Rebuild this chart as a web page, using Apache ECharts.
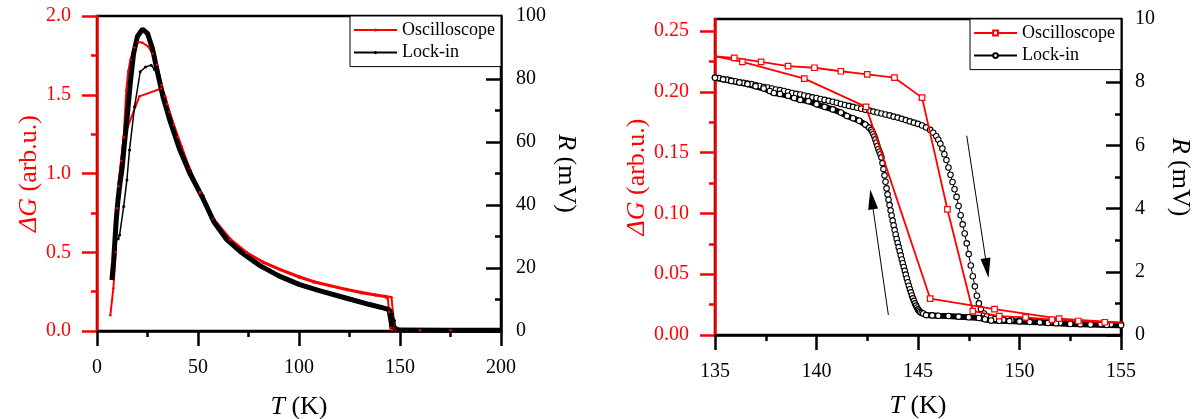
<!DOCTYPE html>
<html>
<head>
<meta charset="utf-8">
<script src="https://cdn.jsdelivr.net/npm/echarts@6/dist/echarts.min.js"></script>
<style>
  html, body { margin: 0; padding: 0; background: #ffffff; }
  #chart { width: 1196px; height: 419px; }
</style>
</head>
<body>
<div id="chart"></div>
<script>
// ---------- tick values ----------
const LEFT_T_TICKS   = [0, 50, 100, 150, 200];
const LEFT_DG_TICKS  = [0, 0.5, 1.0, 1.5, 2.0];
const LEFT_R_TICKS   = [0, 20, 40, 60, 80, 100];
const RIGHT_T_TICKS  = [135, 140, 145, 150, 155];
const RIGHT_DG_TICKS = [0, 0.05, 0.10, 0.15, 0.20, 0.25];
const RIGHT_DG_TOP   = 0.26;
const RIGHT_R_TICKS  = [0, 2, 4, 6, 8, 10];

const LEGEND_LABELS = {
  'osc-left': 'Oscilloscope', 'lock-left': 'Lock-in',
  'osc-right': 'Oscilloscope', 'lock-right': 'Lock-in'
};

// ---------- full range, 0-200 K: [T (K), value] ----------
// Oscilloscope dG (arb.u.), cooling run
const LEFT_OSC_COOL = [
  [6.6, 0.10], [8.1, 0.27], [9.3, 0.50], [9.9, 0.78], [10.5, 0.92], [12.0, 1.08], [13.2, 1.23],
  [14.5, 1.53], [15.5, 1.65], [16.5, 1.72], [18.5, 1.80], [20.6, 1.835], [22.5, 1.83], [25.5, 1.805],
  [27.5, 1.76], [29.7, 1.69], [32.0, 1.56], [34.6, 1.44], [38.0, 1.31], [42.0, 1.17], [46.0, 1.02],
  [51.0, 0.874], [57.7, 0.705], [66.0, 0.578], [74.2, 0.493], [82.0, 0.435], [90.6, 0.387],
  [100, 0.34], [107, 0.31], [115, 0.285], [123.6, 0.26], [131, 0.24], [138, 0.225], [143, 0.215],
  [144, 0.205], [144.6, 0.12], [145.3, 0.02], [146, 0.006], [150, 0.005], [175, 0.004], [200, 0.004]
];
// Oscilloscope dG (arb.u.), warming run
const LEFT_OSC_WARM = [
  [10.5, 0.92], [13.2, 1.23], [21.0, 1.49], [31.8, 1.54], [33.8, 1.49], [36.0, 1.39], [40.0, 1.23],
  [46.0, 1.03], [51.0, 0.882], [57.7, 0.713], [66.0, 0.586], [74.2, 0.50], [82.0, 0.442], [90.6, 0.394],
  [100, 0.348], [107, 0.318], [115, 0.292], [123.6, 0.267], [131, 0.248], [138, 0.232], [143, 0.222],
  [145.8, 0.214], [146.5, 0.12], [147.2, 0.02], [148, 0.006], [160, 0.004], [200, 0.004]
];
// Lock-in R (mV), cooling run
const LEFT_LOCK_COOL = [
  [7.4, 16.2], [8.2, 22], [8.8, 28], [9.5, 35], [10.3, 41], [11.2, 46], [12.4, 51.5], [13.5, 59],
  [14.8, 67], [16.5, 79], [18.1, 88], [20, 93.5], [22.5, 95.8], [25, 94.5], [27.5, 89.5], [30, 82],
  [32.8, 74], [36, 67], [41, 57.5], [46, 50], [52.5, 42], [58, 34.5], [64, 29.2], [71, 25.2], [80, 21],
  [90, 17.5], [100, 14.8], [110, 12.8], [123.6, 10.4], [135, 8.4], [142.5, 7.2], [144.5, 6.8],
  [145, 6.3], [145.5, 3.5], [146, 1.0], [146.5, 0.4], [150, 0.3], [175, 0.25], [200, 0.25]
];
// Lock-in R (mV), warming run
const LEFT_LOCK_WARM = [
  [9.1, 28.4], [10.5, 29.3], [11.2, 30.5], [13.2, 39.5], [14.8, 47.9], [16.1, 57.5], [18.6, 71.2],
  [21.4, 82.3], [24.0, 83.8], [26.8, 84.4], [28.5, 83.0], [30.5, 81.0], [33.0, 75.5], [36, 68.5],
  [41, 58.5], [46, 51], [52.5, 43], [58, 35.2], [64, 30], [71, 25.8], [80, 21.4], [90, 17.8],
  [100, 15.1], [110, 13.1], [123.6, 10.7], [135, 8.7], [141.2, 7.6], [144.9, 6.9], [145.6, 6.5],
  [146.4, 5.5], [147.25, 3.3], [147.9, 1.2], [148.3, 0.6], [150, 0.4], [170, 0.35], [200, 0.3]
];

// ---------- transition region, 135-155 K ----------
// Oscilloscope dG (arb.u.), warming run
const RIGHT_OSC_WARM = [
  [134.65, 0.2297], [135.95, 0.228], [137.27, 0.2248], [138.6, 0.2213], [139.9, 0.2199],
  [141.2, 0.217], [142.5, 0.2145], [143.84, 0.2117], [145.2, 0.1953], [146.45, 0.1033],
  [147.7, 0.0197], [149.0, 0.0155], [150.3, 0.0145], [151.6, 0.0127], [152.9, 0.0115],
  [154.2, 0.0105], [155.5, 0.0097]
];
// Oscilloscope dG (arb.u.), cooling run
const RIGHT_OSC_COOL = [
  [133.2, 0.2355], [136.35, 0.2248], [139.4, 0.2109], [142.44, 0.1877], [145.6, 0.030],
  [148.77, 0.0213], [151.95, 0.0134], [155.05, 0.0102]
];
// Lock-in R (mV), warming run
const RIGHT_LOCK_WARM = [
  [135.0, 8.15], [135.2, 8.13], [135.4, 8.10], [135.6, 8.08], [135.8, 8.05], [136.0, 8.03],
  [136.2, 8.00], [136.4, 7.98], [136.6, 7.96], [136.8, 7.94], [137.0, 7.91], [137.2, 7.88],
  [137.4, 7.85], [137.6, 7.83], [137.8, 7.80], [138.0, 7.77], [138.2, 7.75], [138.4, 7.72],
  [138.6, 7.69], [138.8, 7.66], [139.0, 7.63], [139.2, 7.61], [139.4, 7.58], [139.6, 7.55],
  [139.8, 7.52], [140.0, 7.50], [140.2, 7.47], [140.4, 7.44], [140.6, 7.41], [140.8, 7.38],
  [141.0, 7.35], [141.2, 7.31], [141.4, 7.28], [141.6, 7.25], [141.8, 7.22], [142.0, 7.19],
  [142.2, 7.16], [142.4, 7.13], [142.6, 7.10], [142.8, 7.07], [143.0, 7.04], [143.2, 7.01],
  [143.4, 6.98], [143.6, 6.95], [143.8, 6.91], [144.0, 6.88], [144.2, 6.84], [144.4, 6.80],
  [144.6, 6.76], [144.8, 6.72], [145.0, 6.68], [145.2, 6.63], [145.4, 6.57], [145.6, 6.49],
  [145.75, 6.40], [145.9, 6.29], [146.0, 6.18], [146.1, 6.05], [146.2, 5.90], [146.3, 5.72],
  [146.4, 5.54], [146.5, 5.30], [146.6, 5.07], [146.7, 4.84], [146.8, 4.61], [146.9, 4.37],
  [147.0, 4.08], [147.1, 3.79], [147.2, 3.50], [147.3, 3.21], [147.4, 2.90], [147.5, 2.56],
  [147.6, 2.20], [147.7, 1.86], [147.8, 1.54], [147.9, 1.24], [148.0, 1.00], [148.1, 0.82],
  [148.25, 0.68], [148.4, 0.60], [148.6, 0.55], [148.8, 0.51], [149.2, 0.48], [149.6, 0.47],
  [150.0, 0.46], [150.5, 0.44], [151.0, 0.43], [151.5, 0.41], [152.0, 0.39], [152.5, 0.38],
  [153.0, 0.37], [153.5, 0.36], [154.0, 0.35], [154.5, 0.34], [155.0, 0.33]
];
// Lock-in R (mV), cooling run
const RIGHT_LOCK_COOL = [
  [135.0, 8.14], [135.4, 8.09], [135.8, 8.04], [136.2, 7.99], [136.6, 7.94], [137.0, 7.87],
  [137.4, 7.80], [137.7, 7.72], [137.9, 7.66], [138.2, 7.63], [138.6, 7.57], [138.9, 7.50],
  [139.2, 7.44], [139.6, 7.40], [140.0, 7.30], [140.4, 7.22], [140.8, 7.14], [141.2, 7.04],
  [141.5, 6.93], [141.8, 6.86], [142.1, 6.78], [142.4, 6.66], [142.6, 6.56], [142.7, 6.49],
  [142.75, 6.43], [142.8, 6.36], [142.85, 6.28], [142.9, 6.19], [142.95, 6.09], [143.0, 5.98],
  [143.05, 5.88], [143.1, 5.80], [143.15, 5.72], [143.2, 5.62], [143.25, 5.44], [143.3, 5.25],
  [143.35, 5.05], [143.4, 4.85], [143.45, 4.64], [143.5, 4.45], [143.55, 4.28], [143.6, 4.11],
  [143.65, 3.94], [143.7, 3.78], [143.75, 3.62], [143.8, 3.47], [143.85, 3.32], [143.9, 3.18],
  [143.95, 3.04], [144.0, 2.91], [144.05, 2.78], [144.1, 2.65], [144.15, 2.52], [144.2, 2.39],
  [144.25, 2.27], [144.3, 2.15], [144.35, 2.03], [144.4, 1.91], [144.45, 1.79], [144.5, 1.67],
  [144.55, 1.56], [144.6, 1.45], [144.65, 1.35], [144.7, 1.25], [144.75, 1.16], [144.8, 1.08],
  [144.85, 1.00], [144.9, 0.93], [144.95, 0.87], [145.0, 0.81], [145.05, 0.77], [145.1, 0.73],
  [145.18, 0.70], [145.26, 0.68], [145.4, 0.63], [145.7, 0.62], [146.0, 0.61], [146.5, 0.60],
  [147.0, 0.58], [147.5, 0.56], [148.0, 0.54], [148.3, 0.50], [148.6, 0.46], [149.0, 0.45],
  [149.5, 0.44], [150.0, 0.43], [150.5, 0.41], [151.0, 0.40], [151.4, 0.38], [151.8, 0.37],
  [152.5, 0.35], [153.0, 0.34], [153.5, 0.33], [154.3, 0.32], [155.0, 0.31]
];
// direction arrows: [start, end] as [T (K), dG]
const ARROWS = [
  [[143.54, 0.0165], [142.72, 0.1116]],
  [[147.40, 0.164], [148.40, 0.0551]]
];

// ---------- styling ----------
const FONT = '"Liberation Serif", "Times New Roman", Times, serif';
const RED = '#ff0000';
const BLACK = '#000000';
const AXIS_W = 2.5;
const MAJOR_TICK = 15;
const MINOR_TICK = 6;

// plot boxes of the two panels
const LEFT_BOX = { left: 97, top: 16, width: 404, height: 315 };
const RIGHT_BOX = { left: 715, top: 19, width: 406, height: 316 };

function ticksAxis(ticks, color, o) {
  return {
    type: 'value',
    min: ticks[0],
    max: ticks[ticks.length - 1],
    interval: ticks[1] - ticks[0],
    axisLine: { show: true, onZero: false, lineStyle: { color: color, width: AXIS_W } },
    axisTick: { show: true, inside: !!o.inside, length: MAJOR_TICK, lineStyle: { color: color, width: AXIS_W } },
    minorTick: { show: true, splitNumber: 2, length: MINOR_TICK, lineStyle: { color: color, width: AXIS_W } },
    splitLine: { show: false },
    axisLabel: {
      color: color, fontFamily: FONT, fontSize: 20, margin: o.margin,
      formatter: o.fmt || (v => String(v))
    },
    nameLocation: 'middle',
    nameGap: o.nameGap,
    nameRotate: o.nameRotate,
    name: o.name,
    nameTextStyle: {
      color: color, fontFamily: FONT, fontSize: 26,
      rich: { i: { fontStyle: 'italic', fontFamily: FONT, fontSize: 26, color: color } }
    }
  };
}

const xAxes = [
  Object.assign(ticksAxis(LEFT_T_TICKS, BLACK, { margin: 27, name: '{i|T} (K)', nameGap: 63 }), { gridIndex: 0 }),
  Object.assign(ticksAxis(RIGHT_T_TICKS, BLACK, { margin: 27, name: '{i|T} (K)', nameGap: 58 }), { gridIndex: 1 })
];

const dgTickStep = RIGHT_DG_TICKS[1] - RIGHT_DG_TICKS[0];
const rightDgMinor = RIGHT_DG_TICKS.map(v => +(v + dgTickStep / 2).toFixed(4)).filter(v => v < RIGHT_DG_TOP);

const yAxes = [
  Object.assign(ticksAxis(LEFT_DG_TICKS, RED, {
    margin: 26, name: '{i|ΔG} (arb.u.)', nameGap: 54, fmt: v => v.toFixed(1)
  }), { gridIndex: 0, position: 'left' }),
  Object.assign(ticksAxis(LEFT_R_TICKS, BLACK, {
    margin: 15, inside: true, name: '{i|R} (mV)', nameGap: 52, nameRotate: -90
  }), { gridIndex: 0, position: 'right' }),
  // right panel dG: the frame top sits slightly above the last labelled tick
  Object.assign(ticksAxis(RIGHT_DG_TICKS, RED, {
    margin: 26, name: '{i|ΔG} (arb.u.)', nameGap: 62, fmt: v => v.toFixed(2)
  }), {
    gridIndex: 1, position: 'left', max: RIGHT_DG_TOP,
    axisTick: { show: true, length: MAJOR_TICK, customValues: RIGHT_DG_TICKS, lineStyle: { color: RED, width: AXIS_W } },
    minorTick: { show: false },
    axisLabel: { color: RED, fontFamily: FONT, fontSize: 20, margin: 26, customValues: RIGHT_DG_TICKS, formatter: v => v.toFixed(2) }
  }),
  Object.assign(ticksAxis(RIGHT_R_TICKS, BLACK, {
    margin: 14, inside: true, name: '{i|R} (mV)', nameGap: 46, nameRotate: -90
  }), { gridIndex: 1, position: 'right' }),
  // minor ticks of the right panel dG axis
  {
    type: 'value', gridIndex: 1, position: 'left', min: 0, max: RIGHT_DG_TOP,
    axisLine: { show: false },
    axisTick: { show: true, length: MINOR_TICK, customValues: rightDgMinor, lineStyle: { color: RED, width: AXIS_W } },
    axisLabel: { show: false },
    splitLine: { show: false }
  }
];

function lineSeries(name, data, xi, yi, st) {
  return Object.assign({
    type: 'line', name: name, data: data, xAxisIndex: xi, yAxisIndex: yi,
    animation: false, silent: true, clip: true,
    emphasis: { disabled: true }
  }, st);
}

const redDot = { symbol: 'circle', symbolSize: 2.5, showSymbol: true, itemStyle: { color: RED }, lineStyle: { color: RED, width: 2 } };
const blackDot = { symbol: 'circle', symbolSize: 3, showSymbol: true, itemStyle: { color: BLACK }, lineStyle: { color: BLACK, width: 1.5 } };
const hollowSquare = { symbol: 'rect', symbolSize: 5.5, showSymbol: true, itemStyle: { color: '#ffffff', borderColor: RED, borderWidth: 1.2 }, lineStyle: { color: RED, width: 1.8 } };
const hollowCircle = { symbol: 'circle', symbolSize: 5.5, showSymbol: true, itemStyle: { color: '#ffffff', borderColor: BLACK, borderWidth: 1.1 }, lineStyle: { color: BLACK, width: 1 } };
const band = { z: 3, showSymbol: false, symbol: 'none', lineStyle: { color: BLACK, width: 6 } };

// arrow shaft and head, drawn through the dG / T scales of the right panel
const tSpan = RIGHT_T_TICKS[RIGHT_T_TICKS.length - 1] - RIGHT_T_TICKS[0];
const arrowSeries = ARROWS.map((a, k) => {
  const dxPx = (a[1][0] - a[0][0]) / tSpan * RIGHT_BOX.width;
  const dyPx = (a[1][1] - a[0][1]) / RIGHT_DG_TOP * RIGHT_BOX.height; // upward positive
  const rot = Math.atan2(dyPx, dxPx) * 180 / Math.PI - 90;
  return lineSeries('arrow-' + k, [a[0], a[1]], 1, 2, {
    z: 4, symbol: 'none', showSymbol: false,
    lineStyle: { color: BLACK, width: 1 },
    markPoint: {
      silent: true, animation: false,
      symbol: 'triangle', symbolSize: [10, 20], symbolRotate: rot,
      itemStyle: { color: BLACK },
      label: { show: false },
      data: [{ coord: a[1] }]
    }
  });
});

const series = [
  // full range
  lineSeries('osc-left', LEFT_OSC_COOL, 0, 0, redDot),
  lineSeries('osc-left-warm', LEFT_OSC_WARM, 0, 0, redDot),
  lineSeries('lock-left-cool', LEFT_LOCK_COOL, 0, 1, { showSymbol: false, symbol: 'none', lineStyle: { color: BLACK, width: 5 } }),
  lineSeries('lock-left', LEFT_LOCK_WARM, 0, 1, blackDot),
  // transition region
  lineSeries('lock-right', RIGHT_LOCK_WARM, 1, 3, hollowCircle),
  lineSeries('lock-right-cool', RIGHT_LOCK_COOL, 1, 3, hollowCircle),
  lineSeries('lock-right-band-a', RIGHT_LOCK_COOL.filter(p => p[0] <= 142.75), 1, 3, band),
  lineSeries('lock-right-band-b', RIGHT_LOCK_COOL.filter(p => p[0] >= 145.26), 1, 3, band),
  lineSeries('osc-right', RIGHT_OSC_WARM, 1, 2, Object.assign({ z: 5 }, hollowSquare)),
  lineSeries('osc-right-cool', RIGHT_OSC_COOL, 1, 2, Object.assign({ z: 5 }, hollowSquare))
].concat(arrowSeries);

function legendBox(names, right, top, iconH) {
  return {
    data: names, orient: 'vertical', right: right, top: top,
    padding: [4, 6, 4, 3], itemGap: 2.6, itemWidth: 43, itemHeight: iconH,
    borderColor: BLACK, borderWidth: 1, backgroundColor: '#ffffff',
    selectedMode: false,
    textStyle: { fontFamily: FONT, fontSize: 18, color: BLACK, lineHeight: 20 },
    formatter: n => LEGEND_LABELS[n]
  };
}

const gridStyle = {
  show: true, borderColor: BLACK, borderWidth: AXIS_W, backgroundColor: 'transparent',
  containLabel: false, outerBoundsMode: 'none'
};

const option = {
  backgroundColor: '#ffffff',
  animation: false,
  grid: [
    Object.assign({}, gridStyle, LEFT_BOX),
    Object.assign({}, gridStyle, RIGHT_BOX)
  ],
  legend: [
    legendBox(['osc-left', 'lock-left'], 1196 - (LEFT_BOX.left + LEFT_BOX.width), LEFT_BOX.top, 4),
    legendBox(['osc-right', 'lock-right'], 1196 - (RIGHT_BOX.left + RIGHT_BOX.width), RIGHT_BOX.top, 6)
  ],
  xAxis: xAxes,
  yAxis: yAxes,
  series: series
};

const chart = echarts.init(document.getElementById('chart'), null, { renderer: 'canvas' });
chart.setOption(option);
</script>
</body>
</html>
